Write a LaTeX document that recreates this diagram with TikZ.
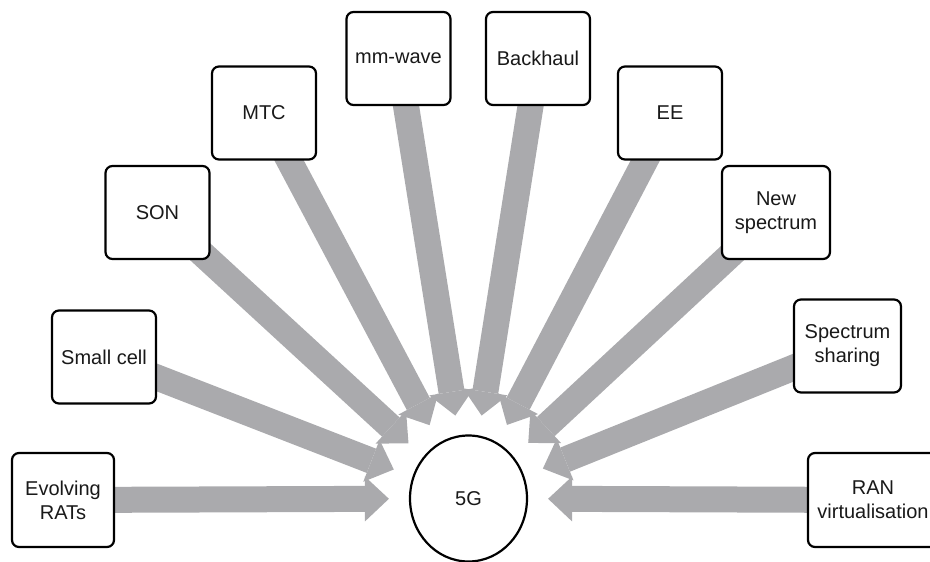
\documentclass[tikz,border=0pt]{standalone}
\usepackage{fontspec}
\setmainfont{Liberation Sans}
\usetikzlibrary{arrows.meta,backgrounds,shapes.geometric}
\definecolor{arrowgray}{RGB}{170,170,173}
\definecolor{txt}{RGB}{25,25,25}
\begin{document}
\begin{tikzpicture}[x=1pt,y=-1pt,
  box/.style={draw=black, line width=2.2pt, rounded corners=7pt, fill=white,
    minimum width=104pt, minimum height=93pt, inner sep=0pt, align=center,
    font=\fontsize{20}{24}\selectfont, text=txt},
  hub/.style={draw=black, line width=2.2pt, ellipse, fill=white,
    minimum width=117pt, minimum height=126pt, inner sep=0pt,
    font=\fontsize{20}{24}\selectfont, text=txt},
  bigarrow/.style={draw=arrowgray, line width=26pt, shorten <=-14pt, shorten >=20pt,
    -{Triangle[length=24pt,width=45pt,line width=0pt]}}
]
\useasboundingbox (0,0) rectangle (930,562);
\clip (0,0) rectangle (930,562);

\node[hub] (g5) at (468.5,498.5) {5G};

\node[box, minimum width=102pt, minimum height=94pt] (evo) at (63,500) {Evolving\\RATs};
\node[box] (small) at (104,357) {Small cell};
\node[box] (son) at (157.5,212.5) {SON};
\node[box] (mtc) at (264,113) {MTC};
\node[box] (mmw) at (398.5,58.5) {mm-wave};
\node[box] (back) at (538,58.5) {Backhaul};
\node[box] (ee) at (670,113) {EE};
\node[box, minimum width=108pt] (news) at (776,212.5) {New\\spectrum};
\node[box, minimum width=107pt] (sss) at (847.5,346) {Spectrum\\sharing};
\node[box, minimum width=130pt, minimum height=94pt] (ran) at (873,500) {RAN\\virtualisation};

\begin{pgfonlayer}{background}
\foreach \src in {evo,small,son,mtc,mmw,back,ee,news,sss,ran}
  \draw[bigarrow] (\src) -- (g5);
\end{pgfonlayer}
\end{tikzpicture}
\end{document}
